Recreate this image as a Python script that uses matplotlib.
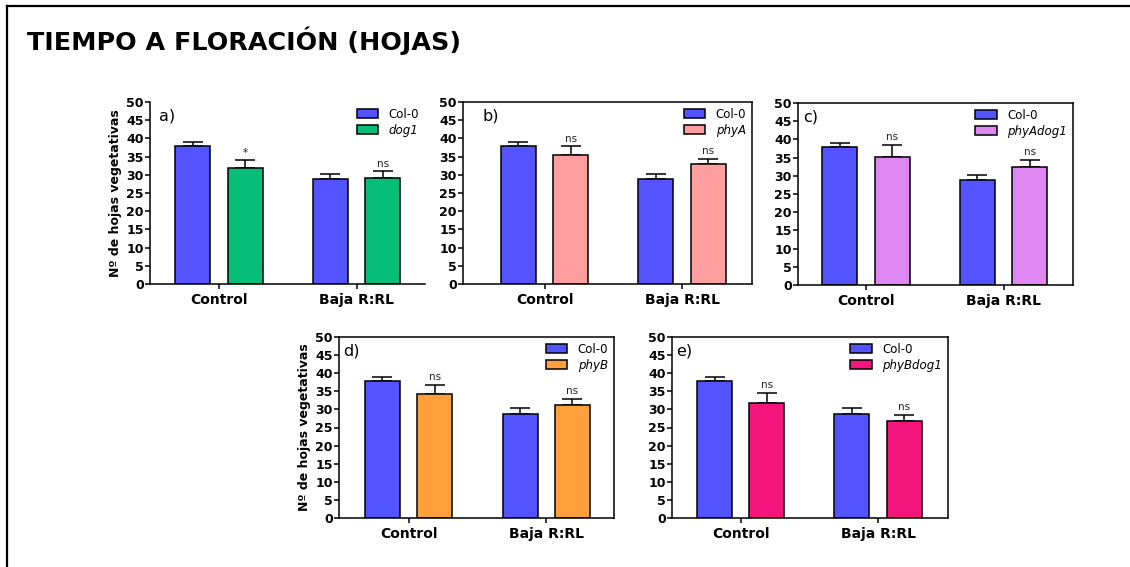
import matplotlib
matplotlib.use("Agg")
import matplotlib.pyplot as plt
from matplotlib.lines import Line2D
import numpy as np

plt.rcParams["font.family"] = ["DejaVu Sans"]

# data
groups = ["Control", "Baja R:RL"]
col0_mean = [37.8, 28.85]
col0_err = [1.1, 1.5]

panel_letters = ["a)", "b)", "c)", "d)", "e)"]
mutant_names = ["dog1", "phyA", "phyAdog1", "phyB", "phyBdog1"]
mutant_means = [
    [32.0, 29.1],
    [35.35, 33.05],
    [35.3, 32.5],
    [34.2, 31.2],
    [31.9, 26.8],
]
mutant_errs = [
    [1.95, 1.85],
    [2.45, 1.25],
    [3.2, 1.9],
    [2.6, 1.6],
    [2.6, 1.6],
]
signif = [
    ["*", "ns"],
    ["ns", "ns"],
    ["ns", "ns"],
    ["ns", "ns"],
    ["ns", "ns"],
]
mutant_colors = ["#07BE78", "#FF9E9E", "#DE87F2", "#FFA03C", "#F5167D"]
col0_color = "#5353FF"

W, H = 1130, 567
# axes boxes in pixels: left, right, top, bottom
boxes = [
    (150, 425, 102, 284),
    (463, 752, 102, 284),
    (798, 1073, 103, 285),
    (339, 614, 337, 518),
    (672, 948, 337, 518),
]
xlims = [(-0.502, 1.498), (-0.593, 1.509), (-0.495, 1.505), (-0.505, 1.492), (-0.5, 1.509)]
letter_dx = [9, 20, 5, 4, 4]
full_box = [False, True, True, True, True]
show_ylabel = [True, False, False, True, False]

fig = plt.figure(figsize=(W / 100, H / 100), dpi=100)

# outer frame (only left and top edges are inside the image)
fig.add_artist(Line2D([6.5 / W, 6.5 / W], [0, 1 - 5.5 / H], color="black", lw=1.6))
fig.add_artist(Line2D([6.5 / W, 1], [1 - 5.5 / H, 1 - 5.5 / H], color="black", lw=1.6))

fig.text(27 / W, 1 - 50 / H, "TIEMPO A FLORACIÓN (HOJAS)", fontsize=18.3,
         fontweight="bold", ha="left", va="baseline")

x = np.arange(len(groups))
width = 0.255
off = 0.19

for i in range(5):
    l, r, t, b = boxes[i]
    ax = fig.add_axes([l / W, 1 - b / H, (r - l) / W, (b - t) / H])
    ax.bar(x - off, col0_mean, width, color=col0_color, edgecolor="black",
           linewidth=1.1, label="Col-0", zorder=2)
    ax.errorbar(x - off, col0_mean, yerr=[np.zeros(2), col0_err], fmt="none",
                ecolor="black", elinewidth=1.1, capsize=7, capthick=1.1, zorder=1)
    ax.bar(x + off, mutant_means[i], width, color=mutant_colors[i], edgecolor="black",
           linewidth=1.1, label=mutant_names[i], zorder=2)
    ax.errorbar(x + off, mutant_means[i], yerr=[np.zeros(2), mutant_errs[i]], fmt="none",
                ecolor="black", elinewidth=1.1, capsize=7, capthick=1.1, zorder=1)
    for j in range(2):
        top = mutant_means[i][j] + mutant_errs[i][j]
        ax.annotate(signif[i][j], (x[j] + off, top), xytext=(0, 2),
                    textcoords="offset points", ha="center", va="bottom",
                    fontsize=7.5, color="#222222")

    ax.set_ylim(0, 50)
    ax.set_xlim(*xlims[i])
    ax.set_yticks(np.arange(0, 51, 5))
    ax.set_xticks(x)
    ax.set_xticklabels(groups, fontsize=10, fontweight="bold")
    for lab in ax.get_yticklabels():
        lab.set_fontweight("bold")
        lab.set_fontsize(9)
    ax.tick_params(axis="y", length=3.5, width=1.1, pad=1)
    ax.tick_params(axis="x", length=3.5, width=1.1, pad=3)
    for s in ax.spines.values():
        s.set_linewidth(1.1)
    if not full_box[i]:
        ax.spines["top"].set_visible(False)
        ax.spines["right"].set_visible(False)
    if show_ylabel[i]:
        ax.set_ylabel("Nº de hojas vegetativas", fontsize=9, fontweight="bold", labelpad=3)

    ax.annotate(panel_letters[i], (0, 1), xycoords="axes fraction",
                xytext=(letter_dx[i] * 0.72, -14 * 0.72), textcoords="offset points",
                ha="left", va="center", fontsize=11.5)

    leg = ax.legend(loc="upper right", frameon=False, fontsize=8.5,
                    handlelength=1.8, handleheight=0.75, handletextpad=0.9,
                    labelspacing=0.25, borderpad=0.2, borderaxespad=0.3)
    leg.get_texts()[1].set_style("italic")
    for p in leg.get_patches():
        p.set_linewidth(1.1)

fig.savefig("out.png", dpi=100)
